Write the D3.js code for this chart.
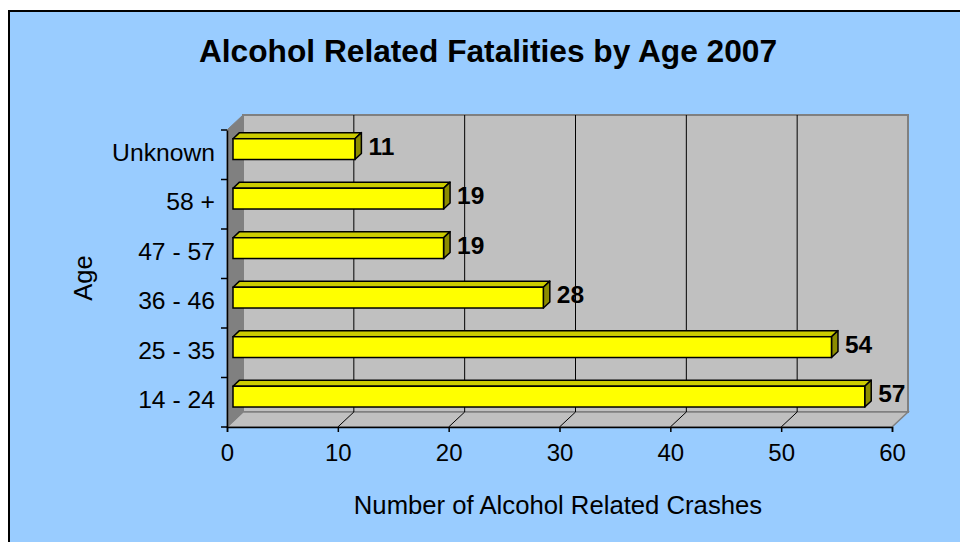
<!DOCTYPE html>
<html>
<head>
<meta charset="utf-8">
<script src="https://cdn.jsdelivr.net/npm/d3@7"></script>
<style>
  html, body { margin: 0; padding: 0; background: #ffffff; }
  svg { display: block; }
  text { font-family: "Liberation Sans", Arial, sans-serif; }
</style>
</head>
<body>
<svg id="chart" width="960" height="542"></svg>
<script>
// ---- data ----
const categories = ["14 - 24", "25 - 35", "36 - 46", "47 - 57", "58 +", "Unknown"];
const values = [57, 54, 28, 19, 19, 11];
const xTicks = [0, 10, 20, 30, 40, 50, 60];
const titleText = "Alcohol Related Fatalities by Age 2007";
const xTitle = "Number of Alcohol Related Crashes";
const yTitle = "Age";

// ---- layout ----
const W = 960, H = 542;
const plot = { left: 227, right: 892, top: 130, bottom: 427 };
const depth = { dx: 16, dy: -15 };
const f1 = 0.375, f2 = 0.78;

const svg = d3.select("#chart");

// outer background
svg.append("rect").attr("x", 9).attr("y", 11).attr("width", W + 10).attr("height", H + 10)
  .attr("fill", "#99CCFF").attr("stroke", "#000").attr("stroke-width", 2);

const x = d3.scaleLinear().domain([0, 60]).range([plot.left, plot.right]);
const y = d3.scaleBand().domain(categories).range([plot.bottom, plot.top])
  .paddingInner(0.58).paddingOuter(0.29);

const g = svg.append("g");

// back wall
g.append("rect")
  .attr("x", plot.left + depth.dx).attr("y", plot.top + depth.dy)
  .attr("width", plot.right - plot.left).attr("height", plot.bottom - plot.top)
  .attr("fill", "#C0C0C0").attr("stroke", "#808080").attr("stroke-width", 2);

// floor
g.append("polygon")
  .attr("points", [
    [plot.left, plot.bottom], [plot.right, plot.bottom],
    [plot.right + depth.dx, plot.bottom + depth.dy], [plot.left + depth.dx, plot.bottom + depth.dy]
  ].map(p => p.join(",")).join(" "))
  .attr("fill", "#C0C0C0").attr("stroke", "#808080").attr("stroke-width", 1.5);

// side wall
g.append("polygon")
  .attr("points", [
    [plot.left, plot.top], [plot.left + depth.dx, plot.top + depth.dy],
    [plot.left + depth.dx, plot.bottom + depth.dy], [plot.left, plot.bottom]
  ].map(p => p.join(",")).join(" "))
  .attr("fill", "#808080").attr("stroke", "#808080").attr("stroke-width", 1);

// gridlines (back wall + floor)
const grid = xTicks.filter(t => t > 0 && t < 60);
g.selectAll("line.gridv").data(grid).join("line")
  .attr("x1", d => x(d) + depth.dx).attr("x2", d => x(d) + depth.dx)
  .attr("y1", plot.top + depth.dy).attr("y2", plot.bottom + depth.dy)
  .attr("stroke", "#000").attr("stroke-width", 1);
g.selectAll("line.gridf").data(grid).join("line")
  .attr("x1", d => x(d)).attr("y1", plot.bottom)
  .attr("x2", d => x(d) + depth.dx).attr("y2", plot.bottom + depth.dy)
  .attr("stroke", "#000").attr("stroke-width", 1);

// bars
const data = categories.map((c, i) => ({ c, v: values[i] }));
const bars = g.selectAll("g.bar").data(data).join("g").attr("class", "bar");
const bw = y.bandwidth();
const o1 = { dx: depth.dx * f1, dy: depth.dy * f1 };
const o2 = { dx: depth.dx * f2, dy: depth.dy * f2 };
const pts = arr => arr.map(p => p.join(",")).join(" ");

bars.append("polygon") // top face
  .attr("points", d => {
    const x0 = x(0), xv = x(d.v), yt = y(d.c);
    return pts([[x0 + o1.dx, yt + o1.dy], [xv + o1.dx, yt + o1.dy], [xv + o2.dx, yt + o2.dy], [x0 + o2.dx, yt + o2.dy]]);
  })
  .attr("fill", "#CCCC00").attr("stroke", "#000").attr("stroke-width", 1.5).attr("stroke-linejoin", "round");
bars.append("polygon") // right face
  .attr("points", d => {
    const xv = x(d.v), yt = y(d.c), yb = y(d.c) + bw;
    return pts([[xv + o1.dx, yt + o1.dy], [xv + o2.dx, yt + o2.dy], [xv + o2.dx, yb + o2.dy], [xv + o1.dx, yb + o1.dy]]);
  })
  .attr("fill", "#8C8C00").attr("stroke", "#000").attr("stroke-width", 1.5).attr("stroke-linejoin", "round");
bars.append("rect") // front face
  .attr("x", x(0) + o1.dx).attr("y", d => y(d.c) + o1.dy)
  .attr("width", d => x(d.v) - x(0)).attr("height", bw)
  .attr("fill", "#FFFF00").attr("stroke", "#000").attr("stroke-width", 1.5);

// data labels
bars.append("text")
  .attr("x", d => x(d.v) + o2.dx + 7)
  .attr("y", d => y(d.c) + bw / 2 + (o1.dy + o2.dy) / 2)
  .attr("dy", "0.36em")
  .attr("font-size", 24.5).attr("font-weight", "bold").attr("fill", "#000")
  .text(d => d.v);

// x axis
const xAxis = d3.axisBottom(x).tickValues(xTicks).tickSize(5).tickPadding(12).tickFormat(d3.format("d"));
const gx = svg.append("g").attr("transform", `translate(0,${plot.bottom})`).call(xAxis);
gx.select(".domain").attr("stroke", "#000").attr("stroke-width", 1.5);
gx.selectAll(".tick line").attr("stroke", "#000").attr("stroke-width", 1.5);
gx.selectAll(".tick text").attr("font-size", 24).attr("fill", "#000")
  .attr("font-family", "'Liberation Sans', Arial, sans-serif");

// y axis
const yAxis = d3.axisLeft(y).tickSize(0).tickPadding(12);
const gy = svg.append("g").attr("transform", `translate(${plot.left},0)`).call(yAxis);
gy.select(".domain").attr("stroke", "#000").attr("stroke-width", 1.5);
gy.selectAll(".tick text").attr("font-size", 24.7).attr("fill", "#000")
  .attr("font-family", "'Liberation Sans', Arial, sans-serif")
  .attr("dy", "0.25em");
// category boundary ticks
const bounds = d3.range(categories.length + 1).map(i => plot.bottom - i * y.step());
svg.selectAll("line.ytick").data(bounds).join("line")
  .attr("x1", plot.left - 6).attr("x2", plot.left)
  .attr("y1", d => d).attr("y2", d => d)
  .attr("stroke", "#000").attr("stroke-width", 1.5);

// titles
svg.append("text").attr("x", 488).attr("y", 62).attr("text-anchor", "middle")
  .attr("font-size", 31.7).attr("font-weight", "bold").text(titleText);
svg.append("text").attr("x", 558).attr("y", 514).attr("text-anchor", "middle")
  .attr("font-size", 25.7).text(xTitle);
svg.append("text").attr("transform", "translate(92,278) rotate(-90)").attr("text-anchor", "middle")
  .attr("font-size", 25.5).text(yTitle);
</script>
</body>
</html>
